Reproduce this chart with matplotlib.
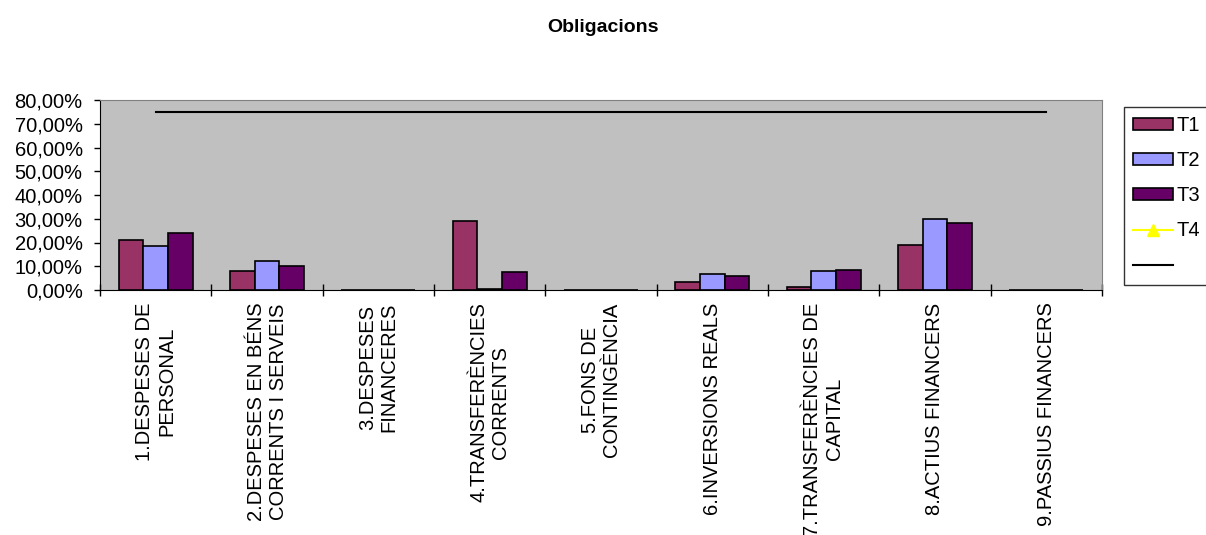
import matplotlib.pyplot as plt
import numpy as np
from matplotlib.ticker import FuncFormatter, FixedLocator
from matplotlib.patches import Patch
from matplotlib.lines import Line2D

plt.rcParams['font.family'] = ['Liberation Sans', 'DejaVu Sans']

categories = ['1.DESPESES DE\nPERSONAL',
              '2.DESPESES EN BÉNS\nCORRENTS I SERVEIS',
              '3.DESPESES\nFINANCERES',
              '4.TRANSFERÈNCIES\nCORRENTS',
              '5.FONS DE\nCONTINGÈNCIA',
              '6.INVERSIONS REALS',
              '7.TRANSFERÈNCIES DE\nCAPITAL',
              '8.ACTIUS FINANCERS',
              '9.PASSIUS FINANCERS']
t1 = [21.2, 8.1, 0.0, 29.0, 0.0, 3.4, 1.1, 18.8, 0.0]
t2 = [18.4, 12.4, 0.1, 0.4, 0.0, 6.6, 8.0, 30.0, 0.0]
t3 = [24.0, 10.2, 0.1, 7.4, 0.0, 5.9, 8.3, 28.2, 0.0]
t4 = [np.nan] * 9
objectiu = [75.0] * 9

c_t1 = '#993366'
c_t2 = '#9999FF'
c_t3 = '#660066'

fig = plt.figure(figsize=(12.06, 5.35), dpi=100)
ax = fig.add_axes([100/1206, 1-290/535, 1002/1206, 190/535])
ax.set_facecolor('#C0C0C0')

x = np.arange(len(categories))
w = 0.222
ax.bar(x - w, t1, w, color=c_t1, edgecolor='black', linewidth=1.2)
ax.bar(x, t2, w, color=c_t2, edgecolor='black', linewidth=1.2)
ax.bar(x + w, t3, w, color=c_t3, edgecolor='black', linewidth=1.2)
ax.plot(x, t4, color='yellow', marker='^', markersize=8)
ax.plot(x, objectiu, color='black', linewidth=1.5)

ax.set_xlim(-0.5, len(categories) - 0.5)
ax.set_ylim(0, 80)
ax.set_yticks(np.arange(0, 81, 10))
ax.yaxis.set_major_formatter(FuncFormatter(lambda v, p: f"{v:.2f}".replace('.', ',') + '%'))
ax.tick_params(axis='y', labelsize=14.5, length=4.5, width=1, pad=8)

ax.set_xticks(x)
ax.set_xticklabels(categories, rotation=90, ha='center', va='top',
                   multialignment='center', fontsize=14.5)
ax.tick_params(axis='x', which='major', length=0, pad=9)
ax.xaxis.set_minor_locator(FixedLocator(np.arange(-0.5, len(categories), 1.0)))
ax.tick_params(axis='x', which='minor', direction='inout', length=9, width=1)

for s in ['top', 'right']:
    ax.spines[s].set_color('#808080')
for s in ['left', 'bottom']:
    ax.spines[s].set_color('black')

handles = [Patch(facecolor=c_t1, edgecolor='black', linewidth=1.2),
           Patch(facecolor=c_t2, edgecolor='black', linewidth=1.2),
           Patch(facecolor=c_t3, edgecolor='black', linewidth=1.2),
           Line2D([], [], color='yellow', marker='^', markersize=8),
           Line2D([], [], color='black', linewidth=1.5)]
labels = ['T1', 'T2', 'T3', 'T4', '']
leg = fig.legend(handles, labels, loc='upper left',
                 bbox_to_anchor=(1124/1206, 1-107/535), fontsize=14.5,
                 frameon=True, fancybox=False, edgecolor='black',
                 handlelength=2.0, handleheight=0.5, handletextpad=0.15,
                 labelspacing=0.8, borderpad=0.45, borderaxespad=0)
leg.get_frame().set_linewidth(1.0)

fig.text(0.5, 1-27/535, 'Obligacions', ha='center', va='center',
         fontsize=14, fontweight='bold')

fig.savefig('out.png', dpi=100)
